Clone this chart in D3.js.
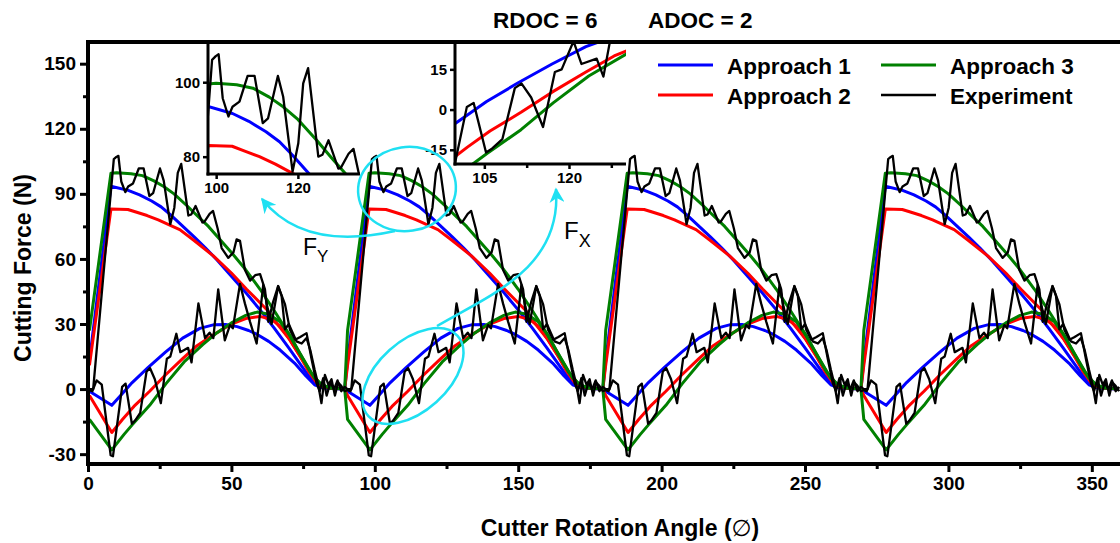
<!DOCTYPE html>
<html><head><meta charset="utf-8">
<script src="https://cdn.jsdelivr.net/npm/d3@7"></script>
<style>
html,body{margin:0;padding:0;background:#fff;}
svg{display:block;font-family:"Liberation Sans",Arial,Helvetica,sans-serif;}
</style></head><body>
<svg id="chart" width="1120" height="543"></svg>
<script>
// One tooth period (90°) of each force signal: [angle within period, force N]
const periodStarts = [0, 90, 180, 270];

const fyApproach1 = [[0.5,13],[8.0,93.5],[14,91.6],[18,89.5],[22.2,86.7],[25.5,84],[28.7,80.4],[32.9,75.2],[37,70.2],[41,65],[45,59.5],[50,52],[55,44.5],[60,36.5],[65,28],[70,19],[74,11.5],[77,6],[80,2],[83,0.5],[89.5,0]];
const fyApproach2 = [[0.5,11],[8.0,83],[13.9,82.8],[17,81.5],[20.6,80],[24.5,78],[28.7,75.5],[32,73.5],[37,68.5],[43.7,61.4],[50,53.5],[55.3,46],[62.3,36.7],[66,30],[70.4,22.7],[75,13],[78.6,5.7],[81,2],[84,0.5],[89.5,0]];
const fyApproach3 = [[0.5,27],[8.0,99.5],[10,99.7],[15,99.3],[19,98.4],[23,96],[26.4,93.4],[30,90],[34.6,84.4],[38,80],[42,75],[46,69],[50,63],[55,55],[60,46],[65,36],[70,25.5],[75,14],[79,5],[82,1.5],[86,0.5],[89.5,0]];
const fyExperiment = [[0.5,0],[1.8,0],[9.0,106],[9.9,107],[10.6,107.5],[11.6,95.7],[13,90.8],[14,93.4],[15.7,94.8],[17.7,101.7],[19.4,101.7],[21.4,89],[22.7,90.3],[25.1,101.7],[26.4,96.1],[28.7,76],[30.1,83.6],[31.3,99.7],[32.5,103.8],[35,80],[36,80.5],[37.5,84.4],[39.9,76.8],[40.5,77],[42.4,80.8],[43.6,82.1],[45.2,74],[46.6,65],[48.9,60.5],[50.7,63],[51.8,69],[53,68.3],[54.7,55],[56.5,50],[58.3,52.5],[60,53],[61.7,46],[62.9,31],[64.5,40],[66.3,47.5],[68.7,39],[70.4,27.4],[72.2,22.7],[74,24],[76.2,25.8],[78,13.5],[79.7,2.6],[80.8,-1],[82,5],[83.2,-3],[84.5,3],[85.8,0],[87,4],[88.3,-1],[89.5,1]];

const fxApproach1 = [[0.5,-1],[8.3,-7.5],[12,-2],[15.4,3],[21,10],[27,17],[33,23.5],[39,28],[44,29.7],[48,29.8],[52,28.8],[56,27],[59,25.2],[63,22],[67,18],[72,12],[76,6],[79,2],[82,0.5],[89.5,0]];
const fxApproach2 = [[0.5,-3],[8.3,-20],[12,-14],[16,-8],[21.5,-1],[27,6.5],[33,14],[38,20],[43.7,25],[50,30],[55,32.5],[60,33.5],[64,32],[67,29],[70,23.5],[74,15],[77,8],[79.7,3],[82,1],[86,0.5],[89.5,0]];
const fxApproach3 = [[0.5,-14],[8.3,-28],[12.5,-21],[15.4,-16.5],[21.5,-7.5],[27.2,2.5],[33.5,12.5],[40,20.5],[45,26],[50,30.5],[55,34],[59,35.5],[63,34.5],[67,31],[70.5,24.5],[74,16],[77.5,8],[81,2.5],[84,0.5],[89.5,0]];
const fxExperiment = [[0.5,-0.5],[1.5,-1],[3,4],[4.8,2],[7.9,-30.5],[8.7,-31],[11.9,1],[13.1,2.5],[15.3,-16],[16.4,-14.5],[18.2,-11],[20.4,8],[21.6,9.7],[23.3,4.5],[25.4,-6.5],[27.5,14],[28.7,15],[30.8,25.5],[32.2,17],[34.9,19],[36.1,12.3],[38.5,39.5],[40.8,23.5],[42.4,26],[43.7,23.5],[45.4,46],[47.7,22.5],[49.5,29.5],[50.5,28],[53,48.5],[54.7,39.5],[56.5,31],[58.8,21],[61.1,48],[62.5,38],[64,30],[66.3,47.5],[67.5,43],[68.7,27.5],[70,30],[72.7,22],[74.5,21],[76.2,23.5],[77.5,18],[79,9],[80.2,2.5],[81.4,-6.5],[82.6,6.5],[83.8,2],[84.9,4.5],[86.1,-3],[87.2,3],[88.3,1.5],[89.5,-1]];

const seriesNames = ["Approach 1", "Approach 2", "Approach 3", "Experiment"];
const seriesColors = ["#0000ff", "#ff0000", "#008000", "#000000"];

const xTicks = [0, 50, 100, 150, 200, 250, 300, 350];
const xMinorTicks = [25, 75, 125, 175, 225, 275, 325];
const yTicks = [-30, 0, 30, 60, 90, 120, 150];
const yMinorTicks = [-15, 15, 45, 75, 105, 135];

const insetFyXTicks = [100, 120];
const insetFyYTicks = [80, 100];
const insetFxXTicks = [105, 120];
const insetFxXMinor = [112.5, 127.5];
const insetFxYTicks = [-15, 0, 15];

const titleLeft = "RDOC = 6";
const titleRight = "ADOC = 2";

// Repeat the tooth period over the full revolution
const tile = period => periodStarts.flatMap(p => period.map(([a, v]) => [p + a, v]));
const fySeries = [fyApproach1, fyApproach2, fyApproach3, fyExperiment].map(tile);
const fxSeries = [fxApproach1, fxApproach2, fxApproach3, fxExperiment].map(tile);

const svg = d3.select("#chart");
const CYAN = "#1fe0f2";

const x = d3.scaleLinear([0, 360], [88, 1120.5]);
const y = d3.scaleLinear([-35, 160], [465, 42]);

const defs = svg.append("defs");
function clip(id, x0, y0, x1, y1) {
  defs.append("clipPath").attr("id", id).append("rect")
    .attr("x", x0).attr("y", y0).attr("width", x1 - x0).attr("height", y1 - y0);
  return `url(#${id})`;
}

function drawSeries(g, sx, sy, series, widths) {
  const ln = d3.line().x(d => sx(d[0])).y(d => sy(d[1]));
  series.forEach((data, i) => {
    g.append("path").datum(data)
      .attr("d", ln)
      .attr("fill", "none")
      .attr("stroke", seriesColors[i])
      .attr("stroke-width", i === 3 ? widths[1] : widths[0])
      .attr("stroke-linejoin", "round");
  });
}

// Main plot curves (approaches first, experiment on top)
const plot = svg.append("g").attr("clip-path", clip("plotClip", 88, 42, 1120, 464));
const line = d3.line().x(d => x(d[0])).y(d => y(d[1]));
[0, 1, 2, 3].forEach(i => {
  [fySeries[i], fxSeries[i]].forEach(data => {
    plot.append("path").datum(data).attr("d", line)
      .attr("fill", "none").attr("stroke", seriesColors[i])
      .attr("stroke-width", i === 3 ? 2.3 : 3)
      .attr("stroke-linejoin", "round");
  });
});

// Frame
svg.append("line").attr("x1", 86).attr("x2", 1120).attr("y1", 42).attr("y2", 42)
  .attr("stroke", "#000").attr("stroke-width", 4);

// Axes
const fmt = d => String(d);
function styleAxis(g) {
  g.select(".domain").remove();
  g.selectAll(".tick line").attr("stroke", "#000").attr("stroke-width", 3);
  g.selectAll(".tick text").attr("font-size", 19).attr("font-weight", "bold")
    .attr("fill", "#000").attr("font-family", '"Liberation Sans",Arial,sans-serif');
}
svg.append("g").attr("transform", "translate(88,0)")
  .call(d3.axisLeft(y).tickValues(yTicks).tickSize(8).tickPadding(4).tickFormat(fmt))
  .call(styleAxis);
svg.append("g").attr("transform", "translate(88,0)")
  .call(d3.axisLeft(y).tickValues(yMinorTicks).tickSize(5).tickFormat(""))
  .call(styleAxis);
svg.append("g").attr("transform", "translate(0,464)")
  .call(d3.axisBottom(x).tickValues(xTicks).tickSize(8).tickPadding(5).tickFormat(fmt))
  .call(styleAxis);
svg.append("g").attr("transform", "translate(0,464)")
  .call(d3.axisBottom(x).tickValues(xMinorTicks).tickSize(5).tickFormat(""))
  .call(styleAxis);
svg.append("line").attr("x1", 88).attr("x2", 88).attr("y1", 40).attr("y2", 466)
  .attr("stroke", "#000").attr("stroke-width", 4);
svg.append("line").attr("x1", 86).attr("x2", 1120).attr("y1", 464).attr("y2", 464)
  .attr("stroke", "#000").attr("stroke-width", 4);

// Axis titles
svg.append("text").attr("transform", "translate(31,268) rotate(-90)")
  .attr("text-anchor", "middle").attr("font-size", 23).attr("font-weight", "bold")
  .text("Cutting Force (N)");
const xt = svg.append("text").attr("x", 620).attr("y", 536)
  .attr("text-anchor", "middle").attr("font-size", 23).attr("font-weight", "bold");
xt.append("tspan").text("Cutter Rotation Angle (");
xt.append("tspan").attr("font-weight", "normal").attr("font-family", "DejaVu Sans").text("∅");
xt.append("tspan").text(")");

// Title
svg.append("text").attr("x", 493).attr("y", 28).attr("font-size", 22.5).attr("font-weight", "bold").text(titleLeft);
svg.append("text").attr("x", 648).attr("y", 28).attr("font-size", 22.5).attr("font-weight", "bold").text(titleRight);

// Legend
const legendPos = [[658, 65], [658, 95], [881, 65], [881, 95]];
seriesNames.forEach((name, i) => {
  const [lx, ly] = legendPos[i];
  svg.append("line").attr("x1", lx).attr("x2", lx + 55).attr("y1", ly).attr("y2", ly)
    .attr("stroke", seriesColors[i]).attr("stroke-width", i === 3 ? 2.3 : 3);
  svg.append("text").attr("x", lx + 69).attr("y", ly + 9).attr("font-size", 22.5)
    .attr("font-weight", "bold").text(name);
});

// Inset helper: zoomed view of one force component
function inset(id, xDom, yDom, x0, x1, yBottom, data, xT, xMinor, yT) {
  const sx = d3.scaleLinear(xDom, [x0, x1]);
  const sy = d3.scaleLinear(yDom, [yBottom, 42]);
  const g = svg.append("g");
  g.append("rect").attr("x", x0).attr("y", 44).attr("width", x1 - x0).attr("height", yBottom - 44).attr("fill", "#fff");
  const cg = g.append("g").attr("clip-path", clip(id, x0, 44, x1, yBottom));
  drawSeries(cg, sx, sy, data, [3, 2.3]);
  const st = gg => {
    gg.select(".domain").remove();
    gg.selectAll(".tick line").attr("stroke", "#000").attr("stroke-width", 2.5);
    gg.selectAll(".tick text").attr("font-size", 15).attr("font-weight", "bold").attr("fill", "#000")
      .attr("font-family", '"Liberation Sans",Arial,sans-serif');
  };
  g.append("g").attr("transform", `translate(${x0},0)`)
    .call(d3.axisLeft(sy).tickValues(yT).tickSize(5).tickPadding(3).tickFormat(fmt)).call(st);
  g.append("g").attr("transform", `translate(0,${yBottom})`)
    .call(d3.axisBottom(sx).tickValues(xT).tickSize(5).tickPadding(3).tickFormat(fmt)).call(st);
  if (xMinor.length) {
    g.append("g").attr("transform", `translate(0,${yBottom})`)
      .call(d3.axisBottom(sx).tickValues(xMinor).tickSize(4).tickFormat("")).call(st);
  }
  g.append("line").attr("x1", x0).attr("x2", x0).attr("y1", 42).attr("y2", yBottom + 1.5)
    .attr("stroke", "#000").attr("stroke-width", 3);
  g.append("line").attr("x1", x0 - 1.5).attr("x2", x1).attr("y1", yBottom).attr("y2", yBottom)
    .attr("stroke", "#000").attr("stroke-width", 3);
}
inset("insetFy", [98.0, 135.2], [75.35, 110.8], 208, 360, 174, fySeries, insetFyXTicks, [], insetFyYTicks);
inset("insetFx", [99.8, 130.1], [-20.3, 25.2], 455, 626, 164, fxSeries, insetFxXTicks, insetFxXMinor, insetFxYTicks);

// Callouts linking the circled regions to the insets
defs.append("marker").attr("id", "cyanHead").attr("viewBox", "0 0 10 10")
  .attr("refX", 9).attr("refY", 5).attr("markerUnits", "userSpaceOnUse")
  .attr("markerWidth", 16).attr("markerHeight", 15).attr("orient", "auto")
  .append("path").attr("d", "M0,0 L10,5 L0,10 L3,5 Z").attr("fill", CYAN);

svg.append("ellipse").attr("cx", 407).attr("cy", 189).attr("rx", 49).attr("ry", 42)
  .attr("transform", "rotate(-8,407,189)")
  .attr("fill", "none").attr("stroke", CYAN).attr("stroke-width", 2.5);
svg.append("ellipse").attr("cx", 413).attr("cy", 376).attr("rx", 60).attr("ry", 35)
  .attr("transform", "rotate(-42,413,376)")
  .attr("fill", "none").attr("stroke", CYAN).attr("stroke-width", 2.5);

svg.append("path").attr("d", "M395,231 C350,241 296,242 262,199")
  .attr("fill", "none").attr("stroke", CYAN).attr("stroke-width", 2.5).attr("marker-end", "url(#cyanHead)");
svg.append("path").attr("d", "M437,326 C490,295 562,268 556,189")
  .attr("fill", "none").attr("stroke", CYAN).attr("stroke-width", 2.5).attr("marker-end", "url(#cyanHead)");

// Force component labels
const fy = svg.append("text").attr("x", 303).attr("y", 255).attr("font-size", 23);
fy.append("tspan").text("F");
fy.append("tspan").attr("font-size", 17).attr("dy", 7).text("Y");
const fx = svg.append("text").attr("x", 564).attr("y", 239).attr("font-size", 24);
fx.append("tspan").text("F");
fx.append("tspan").attr("font-size", 18).attr("dy", 8).text("X");
</script></body></html>
